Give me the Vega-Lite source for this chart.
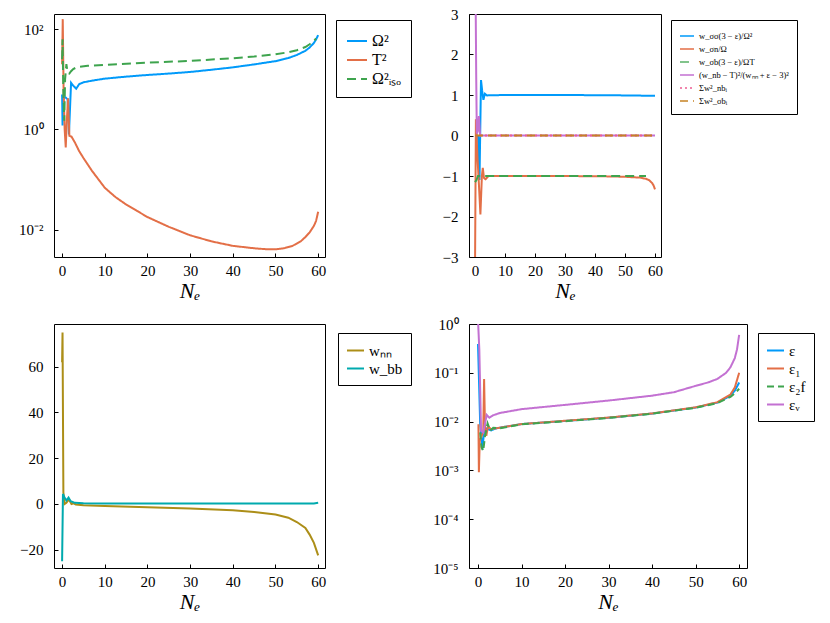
{
  "$schema": "https://vega.github.io/schema/vega-lite/v6.json",
  "background": "white",
  "padding": {"left": 18, "top": 6, "right": 0, "bottom": 0},
  "bounds": "flush",
  "columns": 2,
  "spacing": {"row": 67, "column": 144},
  "datasets": {
    "tl": [
      {"x": 0, "y": 5, "s": "Ω²"}, {"x": 0.1, "y": 1.2, "s": "Ω²"}, {"x": 0.3, "y": 4, "s": "Ω²"}, {"x": 0.6, "y": 4.5, "s": "Ω²"},
      {"x": 1.0, "y": 4.2, "s": "Ω²"}, {"x": 1.3, "y": 4, "s": "Ω²"}, {"x": 1.6, "y": 0.8, "s": "Ω²"}, {"x": 2.1, "y": 8.5, "s": "Ω²"},
      {"x": 2.6, "y": 7.5, "s": "Ω²"}, {"x": 3.3, "y": 6.5, "s": "Ω²"}, {"x": 4, "y": 8, "s": "Ω²"}, {"x": 5, "y": 8.7, "s": "Ω²"},
      {"x": 7, "y": 9.4, "s": "Ω²"}, {"x": 10, "y": 10.3, "s": "Ω²"}, {"x": 15, "y": 11.3, "s": "Ω²"}, {"x": 20, "y": 12.2, "s": "Ω²"},
      {"x": 25, "y": 13, "s": "Ω²"}, {"x": 30, "y": 14, "s": "Ω²"}, {"x": 35, "y": 15.5, "s": "Ω²"}, {"x": 40, "y": 17.3, "s": "Ω²"},
      {"x": 45, "y": 19.8, "s": "Ω²"}, {"x": 50, "y": 23, "s": "Ω²"}, {"x": 53, "y": 26.5, "s": "Ω²"}, {"x": 55, "y": 30.5, "s": "Ω²"},
      {"x": 57, "y": 37, "s": "Ω²"}, {"x": 58, "y": 43, "s": "Ω²"}, {"x": 59, "y": 53, "s": "Ω²"}, {"x": 59.5, "y": 62, "s": "Ω²"},
      {"x": 60, "y": 76, "s": "Ω²"},
      {"x": 0, "y": 20, "s": "T²"}, {"x": 0.15, "y": 158, "s": "T²"}, {"x": 0.35, "y": 6, "s": "T²"}, {"x": 0.6, "y": 1.0, "s": "T²"},
      {"x": 0.85, "y": 0.44, "s": "T²"}, {"x": 1.1, "y": 1.5, "s": "T²"}, {"x": 1.4, "y": 4.2, "s": "T²"}, {"x": 1.7, "y": 0.75, "s": "T²"},
      {"x": 2.2, "y": 0.72, "s": "T²"}, {"x": 3, "y": 0.55, "s": "T²"}, {"x": 4, "y": 0.37, "s": "T²"}, {"x": 5, "y": 0.27, "s": "T²"},
      {"x": 7, "y": 0.15, "s": "T²"}, {"x": 10, "y": 0.069, "s": "T²"}, {"x": 12.5, "y": 0.045, "s": "T²"}, {"x": 15, "y": 0.032, "s": "T²"},
      {"x": 17.5, "y": 0.024, "s": "T²"}, {"x": 20, "y": 0.018, "s": "T²"}, {"x": 25, "y": 0.0115, "s": "T²"}, {"x": 30, "y": 0.0078, "s": "T²"},
      {"x": 35, "y": 0.0059, "s": "T²"}, {"x": 40, "y": 0.0048, "s": "T²"}, {"x": 45, "y": 0.0043, "s": "T²"}, {"x": 48, "y": 0.0041, "s": "T²"},
      {"x": 50, "y": 0.0041, "s": "T²"}, {"x": 52, "y": 0.0043, "s": "T²"}, {"x": 54, "y": 0.0048, "s": "T²"}, {"x": 56, "y": 0.006, "s": "T²"},
      {"x": 57, "y": 0.0072, "s": "T²"}, {"x": 58, "y": 0.0089, "s": "T²"}, {"x": 59, "y": 0.012, "s": "T²"}, {"x": 59.5, "y": 0.015, "s": "T²"},
      {"x": 60, "y": 0.023, "s": "T²"},
      {"x": 0, "y": 25, "s": "Ω²ᵢₛₒ"}, {"x": 0.1, "y": 63, "s": "Ω²ᵢₛₒ"}, {"x": 0.3, "y": 5, "s": "Ω²ᵢₛₒ"}, {"x": 0.5, "y": 1.5, "s": "Ω²ᵢₛₒ"},
      {"x": 0.7, "y": 10, "s": "Ω²ᵢₛₒ"}, {"x": 1.0, "y": 20, "s": "Ω²ᵢₛₒ"}, {"x": 1.3, "y": 13.5, "s": "Ω²ᵢₛₒ"}, {"x": 1.7, "y": 13, "s": "Ω²ᵢₛₒ"},
      {"x": 2.1, "y": 14.5, "s": "Ω²ᵢₛₒ"}, {"x": 2.6, "y": 16, "s": "Ω²ᵢₛₒ"}, {"x": 3.5, "y": 17.5, "s": "Ω²ᵢₛₒ"}, {"x": 6, "y": 18.6, "s": "Ω²ᵢₛₒ"},
      {"x": 10, "y": 19.4, "s": "Ω²ᵢₛₒ"}, {"x": 20, "y": 21.4, "s": "Ω²ᵢₛₒ"}, {"x": 30, "y": 23.3, "s": "Ω²ᵢₛₒ"}, {"x": 40, "y": 26.3, "s": "Ω²ᵢₛₒ"},
      {"x": 45, "y": 28.5, "s": "Ω²ᵢₛₒ"}, {"x": 50, "y": 31.6, "s": "Ω²ᵢₛₒ"}, {"x": 53, "y": 34.5, "s": "Ω²ᵢₛₒ"}, {"x": 55, "y": 38, "s": "Ω²ᵢₛₒ"},
      {"x": 57, "y": 44, "s": "Ω²ᵢₛₒ"}, {"x": 58, "y": 50, "s": "Ω²ᵢₛₒ"}, {"x": 59, "y": 58, "s": "Ω²ᵢₛₒ"}, {"x": 59.5, "y": 65, "s": "Ω²ᵢₛₒ"}
    ],
    "tr": [
      {"x": 0, "y": 0, "s": "w_σσ(3 − ε)/Ω²"}, {"x": 1.0, "y": 0, "s": "w_σσ(3 − ε)/Ω²"}, {"x": 1.5, "y": -1.1, "s": "w_σσ(3 − ε)/Ω²"},
      {"x": 2.0, "y": 1.37, "s": "w_σσ(3 − ε)/Ω²"}, {"x": 2.4, "y": 1.1, "s": "w_σσ(3 − ε)/Ω²"}, {"x": 2.8, "y": 0.88, "s": "w_σσ(3 − ε)/Ω²"},
      {"x": 3.3, "y": 1.03, "s": "w_σσ(3 − ε)/Ω²"}, {"x": 4, "y": 0.99, "s": "w_σσ(3 − ε)/Ω²"}, {"x": 10, "y": 1.0, "s": "w_σσ(3 − ε)/Ω²"},
      {"x": 30, "y": 1.0, "s": "w_σσ(3 − ε)/Ω²"}, {"x": 50, "y": 0.99, "s": "w_σσ(3 − ε)/Ω²"}, {"x": 60, "y": 0.98, "s": "w_σσ(3 − ε)/Ω²"},
      {"x": 0, "y": -3.4, "s": "w_σn/Ω"}, {"x": 0.3, "y": 0.4, "s": "w_σn/Ω"}, {"x": 0.8, "y": -0.5, "s": "w_σn/Ω"},
      {"x": 1.3, "y": -1.2, "s": "w_σn/Ω"}, {"x": 1.8, "y": -1.95, "s": "w_σn/Ω"}, {"x": 2.3, "y": -1.0, "s": "w_σn/Ω"},
      {"x": 2.6, "y": -0.8, "s": "w_σn/Ω"}, {"x": 3.0, "y": -1.05, "s": "w_σn/Ω"}, {"x": 3.5, "y": -1.08, "s": "w_σn/Ω"},
      {"x": 4.5, "y": -1.0, "s": "w_σn/Ω"}, {"x": 10, "y": -1.0, "s": "w_σn/Ω"}, {"x": 30, "y": -1.0, "s": "w_σn/Ω"},
      {"x": 45, "y": -1.01, "s": "w_σn/Ω"}, {"x": 50, "y": -1.02, "s": "w_σn/Ω"}, {"x": 55, "y": -1.04, "s": "w_σn/Ω"},
      {"x": 57, "y": -1.07, "s": "w_σn/Ω"}, {"x": 58, "y": -1.1, "s": "w_σn/Ω"}, {"x": 59, "y": -1.17, "s": "w_σn/Ω"},
      {"x": 59.5, "y": -1.23, "s": "w_σn/Ω"}, {"x": 60, "y": -1.33, "s": "w_σn/Ω"},
      {"x": 0, "y": -1.15, "s": "w_σb(3 − ε)/ΩT"}, {"x": 0.5, "y": -1.1, "s": "w_σb(3 − ε)/ΩT"}, {"x": 1.0, "y": -1.0, "s": "w_σb(3 − ε)/ΩT"},
      {"x": 57, "y": -1.0, "s": "w_σb(3 − ε)/ΩT"},
      {"x": 0, "y": 4, "s": "(w_nb − T)²/(wₙₙ + ε − 3)²"}, {"x": 0.2, "y": 3.5, "s": "(w_nb − T)²/(wₙₙ + ε − 3)²"},
      {"x": 0.4, "y": 1.5, "s": "(w_nb − T)²/(wₙₙ + ε − 3)²"}, {"x": 0.6, "y": 0.05, "s": "(w_nb − T)²/(wₙₙ + ε − 3)²"},
      {"x": 0.9, "y": 0.1, "s": "(w_nb − T)²/(wₙₙ + ε − 3)²"}, {"x": 1.3, "y": 0.48, "s": "(w_nb − T)²/(wₙₙ + ε − 3)²"},
      {"x": 1.7, "y": 0, "s": "(w_nb − T)²/(wₙₙ + ε − 3)²"}, {"x": 60, "y": 0, "s": "(w_nb − T)²/(wₙₙ + ε − 3)²"},
      {"x": 0, "y": 0, "s": "Σw²_nbᵢ"}, {"x": 60, "y": 0, "s": "Σw²_nbᵢ"},
      {"x": 0, "y": 0, "s": "Σw²_σbᵢ"}, {"x": 60, "y": 0, "s": "Σw²_σbᵢ"}
    ],
    "bl": [
      {"x": 0, "y": 62, "s": "wₙₙ"}, {"x": 0.1, "y": 75, "s": "wₙₙ"}, {"x": 0.3, "y": 5, "s": "wₙₙ"}, {"x": 0.6, "y": 0, "s": "wₙₙ"},
      {"x": 1.0, "y": 0.5, "s": "wₙₙ"}, {"x": 1.6, "y": 2, "s": "wₙₙ"}, {"x": 2.2, "y": 0, "s": "wₙₙ"}, {"x": 2.7, "y": 0.3, "s": "wₙₙ"},
      {"x": 3.2, "y": -0.2, "s": "wₙₙ"}, {"x": 5, "y": -0.6, "s": "wₙₙ"}, {"x": 10, "y": -0.9, "s": "wₙₙ"}, {"x": 20, "y": -1.45, "s": "wₙₙ"},
      {"x": 30, "y": -2.0, "s": "wₙₙ"}, {"x": 40, "y": -2.8, "s": "wₙₙ"}, {"x": 45, "y": -3.5, "s": "wₙₙ"}, {"x": 50, "y": -4.6, "s": "wₙₙ"},
      {"x": 53, "y": -6, "s": "wₙₙ"}, {"x": 55, "y": -7.9, "s": "wₙₙ"}, {"x": 57, "y": -10.5, "s": "wₙₙ"}, {"x": 58, "y": -13.4, "s": "wₙₙ"},
      {"x": 59, "y": -17, "s": "wₙₙ"}, {"x": 60, "y": -22.5, "s": "wₙₙ"},
      {"x": 0, "y": -25, "s": "w_bb"}, {"x": 0.2, "y": 4.4, "s": "w_bb"}, {"x": 0.5, "y": 3, "s": "w_bb"}, {"x": 1.0, "y": 1.5, "s": "w_bb"},
      {"x": 1.5, "y": 2.8, "s": "w_bb"}, {"x": 2.0, "y": 1.2, "s": "w_bb"}, {"x": 3, "y": 0.5, "s": "w_bb"}, {"x": 5, "y": 0.3, "s": "w_bb"},
      {"x": 10, "y": 0.2, "s": "w_bb"}, {"x": 59, "y": 0.2, "s": "w_bb"}, {"x": 60, "y": 0.5, "s": "w_bb"}
    ],
    "br": [
      {"x": 0, "y": 0.39, "s": "ε"}, {"x": 0.5, "y": 0.009, "s": "ε"}, {"x": 1.0, "y": 0.0027, "s": "ε"}, {"x": 1.5, "y": 0.0076, "s": "ε"},
      {"x": 2, "y": 0.0072, "s": "ε"}, {"x": 3, "y": 0.0066, "s": "ε"}, {"x": 4, "y": 0.0072, "s": "ε"}, {"x": 5, "y": 0.0075, "s": "ε"},
      {"x": 10, "y": 0.0089, "s": "ε"}, {"x": 20, "y": 0.0103, "s": "ε"}, {"x": 30, "y": 0.012, "s": "ε"}, {"x": 40, "y": 0.0146, "s": "ε"},
      {"x": 50, "y": 0.0194, "s": "ε"}, {"x": 55, "y": 0.0245, "s": "ε"}, {"x": 58, "y": 0.034, "s": "ε"}, {"x": 59, "y": 0.043, "s": "ε"},
      {"x": 60, "y": 0.063, "s": "ε"},
      {"x": 0.1, "y": 0.0088, "s": "ε₁"}, {"x": 0.2, "y": 0.00092, "s": "ε₁"}, {"x": 0.4, "y": 0.004, "s": "ε₁"}, {"x": 0.8, "y": 0.005, "s": "ε₁"},
      {"x": 1.2, "y": 0.006, "s": "ε₁"}, {"x": 1.4, "y": 0.075, "s": "ε₁"}, {"x": 1.6, "y": 0.008, "s": "ε₁"}, {"x": 1.9, "y": 0.0051, "s": "ε₁"},
      {"x": 2.3, "y": 0.008, "s": "ε₁"}, {"x": 3, "y": 0.007, "s": "ε₁"}, {"x": 5, "y": 0.0075, "s": "ε₁"}, {"x": 10, "y": 0.0089, "s": "ε₁"},
      {"x": 20, "y": 0.0104, "s": "ε₁"}, {"x": 30, "y": 0.0121, "s": "ε₁"}, {"x": 40, "y": 0.0147, "s": "ε₁"}, {"x": 50, "y": 0.0196, "s": "ε₁"},
      {"x": 55, "y": 0.025, "s": "ε₁"}, {"x": 58, "y": 0.036, "s": "ε₁"}, {"x": 59, "y": 0.05, "s": "ε₁"}, {"x": 60, "y": 0.1, "s": "ε₁"},
      {"x": 0.5, "y": 0.006, "s": "ε₂f"}, {"x": 0.8, "y": 0.003, "s": "ε₂f"}, {"x": 1.2, "y": 0.0025, "s": "ε₂f"}, {"x": 1.6, "y": 0.005, "s": "ε₂f"},
      {"x": 2.2, "y": 0.0092, "s": "ε₂f"}, {"x": 2.8, "y": 0.0065, "s": "ε₂f"}, {"x": 3.5, "y": 0.0075, "s": "ε₂f"}, {"x": 5, "y": 0.0073, "s": "ε₂f"},
      {"x": 10, "y": 0.0088, "s": "ε₂f"}, {"x": 20, "y": 0.0102, "s": "ε₂f"}, {"x": 30, "y": 0.0119, "s": "ε₂f"}, {"x": 40, "y": 0.0145, "s": "ε₂f"},
      {"x": 50, "y": 0.0192, "s": "ε₂f"}, {"x": 55, "y": 0.024, "s": "ε₂f"}, {"x": 58, "y": 0.032, "s": "ε₂f"}, {"x": 59, "y": 0.038, "s": "ε₂f"},
      {"x": 60, "y": 0.047, "s": "ε₂f"},
      {"x": 0, "y": 1.2, "s": "εᵥ"}, {"x": 0.3, "y": 0.3, "s": "εᵥ"}, {"x": 0.7, "y": 0.0065, "s": "εᵥ"}, {"x": 1.2, "y": 0.006, "s": "εᵥ"},
      {"x": 1.6, "y": 0.009, "s": "εᵥ"}, {"x": 2.0, "y": 0.0137, "s": "εᵥ"}, {"x": 2.6, "y": 0.012, "s": "εᵥ"}, {"x": 3.5, "y": 0.0135, "s": "εᵥ"},
      {"x": 5, "y": 0.015, "s": "εᵥ"}, {"x": 10, "y": 0.018, "s": "εᵥ"}, {"x": 20, "y": 0.022, "s": "εᵥ"}, {"x": 30, "y": 0.027, "s": "εᵥ"},
      {"x": 40, "y": 0.034, "s": "εᵥ"}, {"x": 45, "y": 0.04, "s": "εᵥ"}, {"x": 50, "y": 0.054, "s": "εᵥ"}, {"x": 53, "y": 0.064, "s": "εᵥ"},
      {"x": 55, "y": 0.075, "s": "εᵥ"}, {"x": 57, "y": 0.1, "s": "εᵥ"}, {"x": 58, "y": 0.13, "s": "εᵥ"}, {"x": 59, "y": 0.2, "s": "εᵥ"},
      {"x": 59.5, "y": 0.3, "s": "εᵥ"}, {"x": 60, "y": 0.6, "s": "εᵥ"}
    ]
  },
  "concat": [
    {
      "width": 271, "height": 243,
      "data": {"name": "tl"},
      "mark": {"type": "line", "strokeWidth": 2, "clip": true},
      "encoding": {
        "x": {"field": "x", "type": "quantitative", "scale": {"domain": [-1.9, 61.6], "nice": false, "zero": false}, "axis": {"values": [0, 10, 20, 30, 40, 50, 60], "title": "Nₑ"}},
        "y": {"field": "y", "type": "quantitative", "scale": {"type": "log", "domain": [0.00288, 200], "nice": false}, "axis": {"values": [0.01, 1, 100], "title": null, "labelExpr": "'10' + ['⁻⁵','⁻⁴','⁻³','⁻²','⁻¹','⁰','¹','²'][round(log(datum.value)/LN10)+5]"}},
        "color": {"field": "s", "type": "nominal", "scale": {"domain": ["Ω²", "T²", "Ω²ᵢₛₒ"], "range": ["#009AFA", "#E36F47", "#3EA44E"]},
          "legend": {"orient": "none", "legendX": 282, "legendY": 6, "labelFontSize": 16, "symbolSize": 400, "rowPadding": 0, "padding": 10}},
        "strokeDash": {"field": "s", "type": "nominal", "scale": {"domain": ["Ω²", "T²", "Ω²ᵢₛₒ"], "range": [[1, 0], [1, 0], [9, 5]]},
          "legend": {"orient": "none", "legendX": 282, "legendY": 6, "labelFontSize": 16, "symbolSize": 400, "rowPadding": 0, "padding": 10}}
      }
    },
    {
      "width": 192, "height": 243,
      "data": {"name": "tr"},
      "mark": {"type": "line", "strokeWidth": 2, "clip": true},
      "encoding": {
        "x": {"field": "x", "type": "quantitative", "scale": {"domain": [-2, 62], "nice": false, "zero": false}, "axis": {"values": [0, 10, 20, 30, 40, 50, 60], "title": "Nₑ"}},
        "y": {"field": "y", "type": "quantitative", "scale": {"domain": [-3, 3], "nice": false}, "axis": {"values": [-3, -2, -1, 0, 1, 2, 3], "title": null, "labelExpr": "replace(format(datum.value, 'd'), '-', '−')"}},
        "color": {"field": "s", "type": "nominal", "scale": {"domain": ["w_σσ(3 − ε)/Ω²", "w_σn/Ω", "w_σb(3 − ε)/ΩT", "(w_nb − T)²/(wₙₙ + ε − 3)²", "Σw²_nbᵢ", "Σw²_σbᵢ"], "range": ["#009AFA", "#E36F47", "#3EA44E", "#C371D2", "#ED5E93", "#C68225"]},
          "legend": {"orient": "none", "legendX": 202, "legendY": 6, "labelFontSize": 8.5, "symbolSize": 196, "symbolStrokeWidth": 1.3, "rowPadding": 0, "padding": 8}},
        "strokeDash": {"field": "s", "type": "nominal", "scale": {"domain": ["w_σσ(3 − ε)/Ω²", "w_σn/Ω", "w_σb(3 − ε)/ΩT", "(w_nb − T)²/(wₙₙ + ε − 3)²", "Σw²_nbᵢ", "Σw²_σbᵢ"], "range": [[1, 0], [1, 0], [9, 5], [1, 0], [2, 3], [8, 5]]},
          "legend": {"orient": "none", "legendX": 202, "legendY": 6, "labelFontSize": 8.5, "symbolSize": 196, "symbolStrokeWidth": 1.3, "rowPadding": 0, "padding": 8}}
      }
    },
    {
      "width": 271, "height": 244,
      "data": {"name": "bl"},
      "mark": {"type": "line", "strokeWidth": 2, "clip": true},
      "encoding": {
        "x": {"field": "x", "type": "quantitative", "scale": {"domain": [-1.9, 61.6], "nice": false, "zero": false}, "axis": {"values": [0, 10, 20, 30, 40, 50, 60], "title": "Nₑ"}},
        "y": {"field": "y", "type": "quantitative", "scale": {"domain": [-28, 78.7], "nice": false, "zero": false}, "axis": {"values": [-20, 0, 20, 40, 60], "title": null, "labelExpr": "replace(format(datum.value, 'd'), '-', '−')"}},
        "color": {"field": "s", "type": "nominal", "scale": {"domain": ["wₙₙ", "w_bb"], "range": ["#AC8E18", "#00AAAE"]},
          "legend": {"orient": "none", "legendX": 284, "legendY": 9, "labelFontSize": 15, "symbolSize": 289, "rowPadding": 0, "padding": 8}}
      }
    },
    {
      "width": 278, "height": 244,
      "data": {"name": "br"},
      "mark": {"type": "line", "strokeWidth": 2, "clip": true},
      "encoding": {
        "x": {"field": "x", "type": "quantitative", "scale": {"domain": [-2.07, 61.8], "nice": false, "zero": false}, "axis": {"values": [0, 10, 20, 30, 40, 50, 60], "title": "Nₑ"}},
        "y": {"field": "y", "type": "quantitative", "scale": {"type": "log", "domain": [0.00001, 1], "nice": false}, "axis": {"values": [0.00001, 0.0001, 0.001, 0.01, 0.1, 1], "title": null, "labelExpr": "'10' + ['⁻⁵','⁻⁴','⁻³','⁻²','⁻¹','⁰','¹','²'][round(log(datum.value)/LN10)+5]"}},
        "color": {"field": "s", "type": "nominal", "scale": {"domain": ["ε", "ε₁", "ε₂f", "εᵥ"], "range": ["#009AFA", "#E36F47", "#3EA44E", "#C371D2"]},
          "legend": {"orient": "none", "legendX": 289, "legendY": 9, "labelFontSize": 15, "symbolSize": 289, "rowPadding": 0, "padding": 8}},
        "strokeDash": {"field": "s", "type": "nominal", "scale": {"domain": ["ε", "ε₁", "ε₂f", "εᵥ"], "range": [[1, 0], [1, 0], [7, 4], [1, 0]]},
          "legend": {"orient": "none", "legendX": 289, "legendY": 9, "labelFontSize": 15, "symbolSize": 289, "rowPadding": 0, "padding": 8}}
      }
    }
  ],
  "resolve": {"scale": {"x": "independent", "y": "independent", "color": "independent", "strokeDash": "independent"}, "legend": {"color": "independent", "strokeDash": "independent"}},
  "config": {
    "font": "Liberation Serif",
    "view": {"stroke": "black", "strokeWidth": 1},
    "axis": {
      "grid": false, "domain": false, "tickColor": "black", "tickSize": -4,
      "labelFont": "Liberation Serif", "labelFontSize": 15, "labelColor": "black",
      "titleFont": "Liberation Serif", "titleFontSize": 22, "titleFontStyle": "italic", "titleFontWeight": "normal", "titleColor": "black", "titlePadding": 2
    },
    "axisX": {"labelPadding": 10},
    "axisY": {"labelPadding": 15},
    "legend": {
      "title": null, "strokeColor": "black", "fillColor": "white", "symbolType": "M-1,0H1", "symbolStrokeWidth": 2,
      "labelFont": "Liberation Serif", "labelColor": "black", "labelOffset": 4
    }
  }
}
